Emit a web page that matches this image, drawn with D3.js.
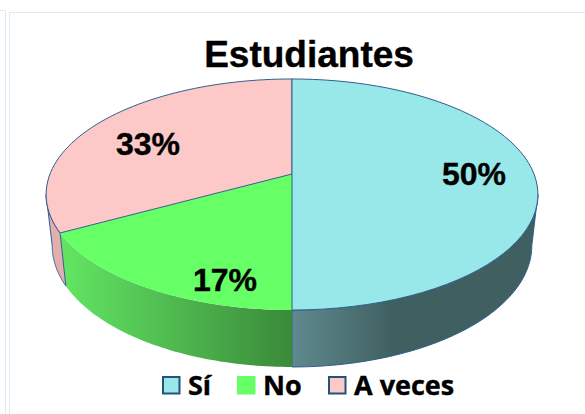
<!DOCTYPE html>
<html>
<head>
<meta charset="utf-8">
<script src="https://cdn.jsdelivr.net/npm/d3@7"></script>
<style>
html, body { margin: 0; padding: 0; background: #fff; }
svg { display: block; }
text { fill: #000; stroke: #000; stroke-width: 0.4px; }
</style>
</head>
<body>
<script>
const categories = ["Sí", "No", "A veces"];
const values = [50, 17, 33];
const labels = ["50%", "17%", "33%"];
const topColors = ["#98e8ea", "#66ff66", "#fcc8c8"];
const wallFrom = ["#5f8a8e", "#3a8a3a", "#e2aeae"];
const wallTo = ["#3f5f60", "#62e462", "#e2aeae"];
const outlined = [true, false, true];

const width = 585, height = 414;
const svg = d3.select("body").append("svg")
    .attr("width", width)
    .attr("height", height);

// faint frames of the page behind the chart
svg.append("rect").attr("x", 9.5).attr("y", 12.5).attr("width", 590).attr("height", 420)
    .attr("fill", "#fff").attr("stroke", "#dfeaf6");
svg.append("path").attr("d", "M0,10.5H5.5V414").attr("fill", "none").attr("stroke", "#dfeaf6");

// perspective of a tilted disc, u and v run from -1 to 1
const persp = 0.1775;
const topDisc = { cx: 292, cy: 174, kx: 242, ky: 111.9 };
const lowDisc = { cx: 292, cy: 224, kx: 236, ky: 117.6 };

function project(disc, angle, r) {
    const u = r * Math.sin(angle), v = -r * Math.cos(angle);
    const w = 1 - persp * v;
    return [disc.cx + disc.kx * u / w, disc.cy + disc.ky * v / w];
}

const line = d3.line();
const rim = (disc, a0, a1) => d3.range(0, 61).map(i => project(disc, a0 + (a1 - a0) * i / 60, 1));

const arcs = d3.pie().sort(null)(values);

// the outline of the disc turns at these angles
const turn = Math.acos(-persp);
const walls = [
    [turn, Math.PI],
    [Math.PI, arcs[1].endAngle],
    [arcs[1].endAngle, 2 * Math.PI - turn]
];

const defs = svg.append("defs");
const gradX = [[292, 395], [292, 66], [52, 66]];
walls.forEach((w, i) => {
    const g = defs.append("linearGradient")
        .attr("id", "wall" + i)
        .attr("gradientUnits", "userSpaceOnUse")
        .attr("x1", gradX[i][0]).attr("x2", gradX[i][1])
        .attr("y1", 0).attr("y2", 0);
    g.append("stop").attr("offset", 0).attr("stop-color", wallFrom[i]);
    g.append("stop").attr("offset", 1).attr("stop-color", wallTo[i]);
});

svg.append("g").selectAll("path")
    .data(walls)
    .join("path")
    .attr("d", d => line(rim(topDisc, d[0], d[1]).concat(rim(lowDisc, d[1], d[0]))) + "Z")
    .attr("fill", (d, i) => `url(#wall${i})`)
    .attr("stroke", (d, i) => outlined[i] ? "#2f5f8f" : "none")
    .attr("stroke-width", 1);

// green first so the outlined slices lie over its edges
svg.append("g").selectAll("path")
    .data([1, 2, 0])
    .join("path")
    .attr("d", i => line([[topDisc.cx, topDisc.cy]].concat(rim(topDisc, arcs[i].startAngle, arcs[i].endAngle))) + "Z")
    .attr("fill", i => topColors[i])
    .attr("stroke", i => outlined[i] ? "#2f5f8f" : "none")
    .attr("stroke-width", 1);

const labelSpots = [[474, 185], [225, 291], [148, 155]];
svg.append("g").selectAll("text")
    .data(labels)
    .join("text")
    .attr("x", (d, i) => labelSpots[i][0])
    .attr("y", (d, i) => labelSpots[i][1])
    .attr("text-anchor", "middle")
    .style("font", "bold 32px 'Liberation Sans'")
    .text(d => d);

svg.append("text")
    .attr("x", 309)
    .attr("y", 67)
    .attr("text-anchor", "middle")
    .style("font", "bold 37px 'Liberation Sans'")
    .text("Estudiantes");

// legend
const legendX = d3.scaleOrdinal().domain(categories).range([162, 237, 328]);
const legend = svg.append("g").selectAll("g")
    .data(categories)
    .join("g")
    .attr("transform", d => `translate(${legendX(d)},376)`);
legend.append("rect")
    .attr("x", 1).attr("y", 1)
    .attr("width", 16.5).attr("height", 16.5)
    .attr("fill", (d, i) => topColors[i])
    .attr("stroke", (d, i) => outlined[i] ? "#24527a" : topColors[i])
    .attr("stroke-width", 2);
legend.append("text")
    .attr("x", 26)
    .attr("y", 18.5)
    .style("font", "bold 27px 'Open Sans'")
    .text(d => d);
</script>
</body>
</html>
